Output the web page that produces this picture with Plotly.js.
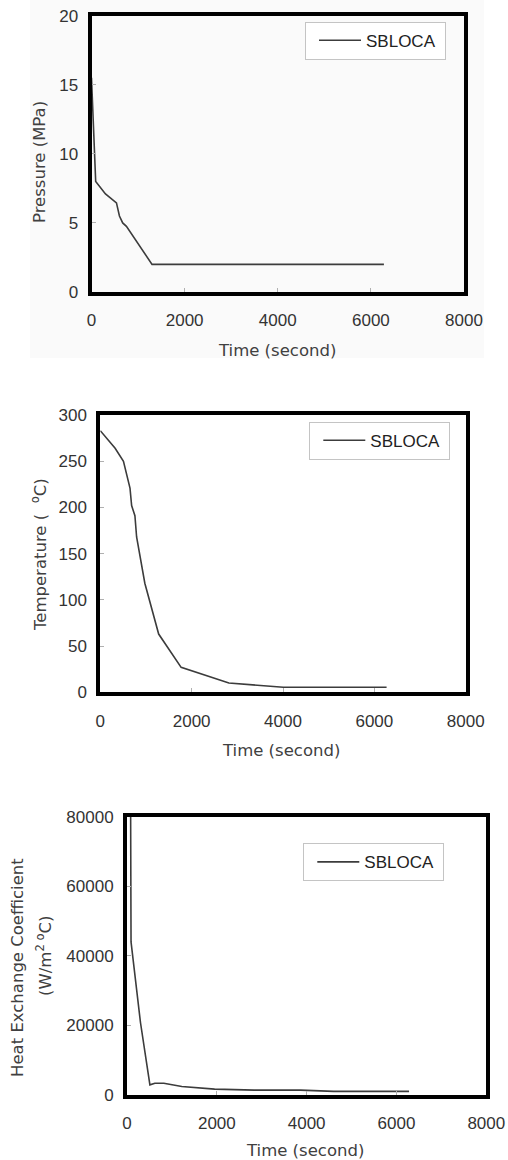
<!DOCTYPE html>
<html>
<head>
<meta charset="utf-8">
<script src="https://cdn.plot.ly/plotly-3.0.1.min.js"></script>
<style>
  html, body { margin: 0; padding: 0; background: #ffffff; }
  #chart { width: 508px; height: 1160px; }
</style>
</head>
<body>
<div id="chart"></div>
<script>
// SBLOCA transient: pressure, temperature and heat exchange coefficient vs. time
const seriesName = "SBLOCA";

const timePressure = [0, 90, 300, 536, 600, 670, 750, 1300, 6280];
const pressureMPa  = [15.5, 8.0, 7.1, 6.45, 5.5, 5.0, 4.75, 2.0, 2.0];

const timeTemp = [0, 325, 507, 650, 686, 758, 795, 975, 1278, 1770, 2815, 4006, 6268];
const tempC    = [283, 264, 250, 221, 202, 191, 168, 118, 63, 27, 10, 5.5, 5.5];

const timeHeat = [80, 90, 300, 510, 620, 820, 1220, 1950, 2830, 3860, 4600, 6280];
const heatCoef = [85000, 44000, 20800, 2840, 3320, 3320, 2380, 1620, 1330, 1330, 960, 960];

const xTicks = [0, 2000, 4000, 6000, 8000];
const pressureTicks = [0, 5, 10, 15, 20];
const tempTicks = [0, 50, 100, 150, 200, 250, 300];
const heatTicks = [0, 20000, 40000, 60000, 80000];

const W = 508, H = 1160;
const px = v => v / W;
const py = v => 1 - v / H;

const lineColor = "#3c3c3c";
const tickFont = { family: "Liberation Sans, Arial, sans-serif", size: 17, color: "#333333" };
const titleFont = { family: "DejaVu Sans, sans-serif", size: 16.5, color: "#404040" };

function xAxis(domain, anchor) {
  return {
    domain: domain, anchor: anchor, range: [0, 8000],
    tickmode: "array", tickvals: xTicks, tickformat: "d",
    ticks: "inside", ticklen: 4, tickcolor: "#b0b0b0", tickwidth: 1,
    showline: true, linecolor: "#000000", linewidth: 4, mirror: true,
    showgrid: false, zeroline: false, tickfont: tickFont,
    ticklabelstandoff: 10, fixedrange: true
  };
}
function yAxis(domain, anchor, range, ticks) {
  return {
    domain: domain, anchor: anchor, range: range,
    tickmode: "array", tickvals: ticks, tickformat: "d",
    ticks: "inside", ticklen: 4, tickcolor: "#b0b0b0", tickwidth: 1,
    showline: true, linecolor: "#000000", linewidth: 4, mirror: true,
    showgrid: false, zeroline: false, tickfont: tickFont,
    ticklabelstandoff: 6, fixedrange: true
  };
}
function legendAt(x, y) {
  return {
    x: px(x), y: py(y), xanchor: "left", yanchor: "top",
    bgcolor: "#ffffff", bordercolor: "#c4c4c4", borderwidth: 1,
    font: { family: "Liberation Sans, Arial, sans-serif", size: 17, color: "#222222" },
    itemwidth: 42, indentation: 8
  };
}

const legendLabel = seriesName + "\u00a0";

const traces = [
  { x: timePressure, y: pressureMPa, xaxis: "x", yaxis: "y", name: legendLabel,
    mode: "lines", line: { color: lineColor, width: 1.6 }, legend: "legend", showlegend: true },
  { x: timeTemp, y: tempC, xaxis: "x2", yaxis: "y2", name: legendLabel,
    mode: "lines", line: { color: lineColor, width: 1.6 }, legend: "legend2", showlegend: true },
  { x: timeHeat, y: heatCoef, xaxis: "x3", yaxis: "y3", name: legendLabel,
    mode: "lines", line: { color: lineColor, width: 1.6 }, legend: "legend3", showlegend: true }
];

function label(text, x, y, angle) {
  return { text: text, xref: "paper", yref: "paper", x: px(x), y: py(y),
           xanchor: "center", yanchor: "middle", showarrow: false,
           textangle: angle || 0, font: titleFont };
}

const layout = {
  width: W, height: H,
  margin: { l: 0, r: 0, t: 0, b: 0 },
  paper_bgcolor: "#ffffff", plot_bgcolor: "#ffffff",
  xaxis:  xAxis([px(91.5), px(464)], "y"),
  yaxis:  yAxis([py(292), py(15.7)], "x", [0, 20], pressureTicks),
  xaxis2: xAxis([px(100.3), px(465.7)], "y2"),
  yaxis2: yAxis([py(692.3), py(415)], "x2", [0, 300], tempTicks),
  xaxis3: xAxis([px(127), px(486.3)], "y3"),
  yaxis3: yAxis([py(1094.7), py(817)], "x3", [0, 80000], heatTicks),
  legend:  legendAt(305, 21.7),
  legend2: legendAt(309.3, 421.7),
  legend3: legendAt(303.3, 843.3),
  shapes: [
    { type: "rect", xref: "paper", yref: "paper", layer: "below",
      x0: px(30), x1: px(484), y0: py(358), y1: py(0),
      fillcolor: "#fafafa", line: { width: 0 } }
  ],
  annotations: [
    label("Time (second)", 277, 350),
    label("Pressure (MPa)", 39, 162, -90),
    label("Time (second)", 281, 750),
    label("Temperature (  <sup>o</sup>C)", 39, 555, -90),
    label("Time (second)", 305, 1150),
    label("Heat Exchange Coefficient", 17, 968, -90),
    label("(W/m<sup>2 </sup><sup>o</sup>C)", 44, 956, -90)
  ]
};

Plotly.newPlot("chart", traces, layout, { displayModeBar: false, staticPlot: true });
</script>
</body>
</html>
